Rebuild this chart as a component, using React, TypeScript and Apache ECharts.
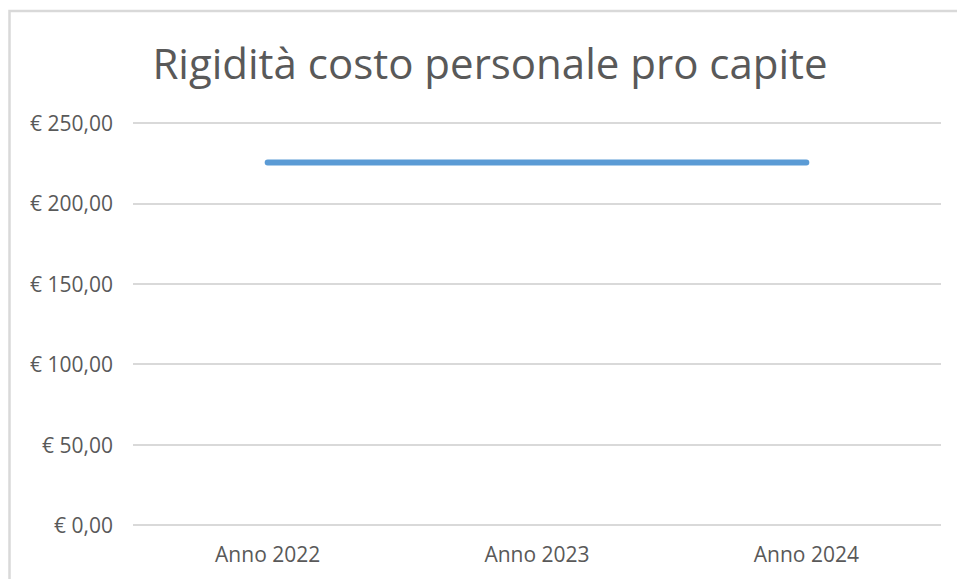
import React, { useEffect, useRef } from "react";
import * as echarts from "echarts";

const categories = ["Anno 2022", "Anno 2023", "Anno 2024"];
const values = [225.5, 225.5, 225.5];
const titleText = "Rigidità costo personale pro capite";

export default function App() {
  const ref = useRef<HTMLDivElement>(null);
  useEffect(() => {
    document.body.style.margin = "0";
    const chart = echarts.init(ref.current!, null, { renderer: "svg" });
    chart.setOption({
      animation: false,
      backgroundColor: "#ffffff",
      textStyle: { fontFamily: "Open Sans" },
      title: {
        text: titleText,
        left: 485,
        top: 36,
        textAlign: "center",
        textStyle: { fontSize: 42, fontWeight: "normal", color: "#595959", fontFamily: "Open Sans" },
      },
      graphic: [
        {
          type: "rect",
          shape: { x: 9.5, y: 11, width: 970, height: 600 },
          style: { fill: "none", stroke: "#d9d9d9", lineWidth: 2.5 },
          silent: true,
        },
      ],
      grid: { left: 133, right: 16, top: 123, bottom: 54 },
      xAxis: {
        type: "category",
        data: categories,
        boundaryGap: true,
        axisLine: { show: false },
        axisTick: { show: false },
        axisLabel: { color: "#595959", fontSize: 21, margin: 18, fontFamily: "Open Sans" },
      },
      yAxis: {
        type: "value",
        min: 0,
        max: 250,
        interval: 50,
        axisLine: { show: false },
        axisTick: { show: false },
        splitLine: { lineStyle: { color: "#d9d9d9", width: 2 } },
        axisLabel: {
          color: "#595959",
          fontSize: 21,
          margin: 20,
          fontFamily: "Open Sans",
          formatter: (v: number) => "€ " + v.toFixed(2).replace(".", ","),
        },
      },
      series: [
        {
          type: "line",
          data: values,
          symbol: "none",
          lineStyle: { color: "#5b9bd5", width: 6, cap: "round" },
        },
      ],
    });
    return () => chart.dispose();
  }, []);
  return <div ref={ref} style={{ width: 957, height: 579 }} />;
}
